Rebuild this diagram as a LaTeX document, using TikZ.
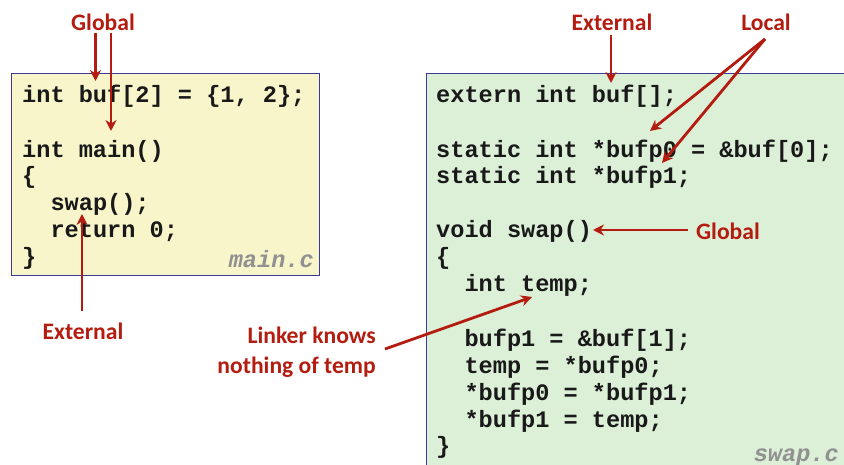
\documentclass[tikz,border=0pt]{standalone}
\usepackage{fontspec}
\setmonofont{Liberation Mono}
\newfontfamily\labfont{Carlito}
\usetikzlibrary{arrows.meta}
\definecolor{lred}{RGB}{180,28,16}
\definecolor{yelfill}{RGB}{249,245,202}
\definecolor{grnfill}{RGB}{220,240,216}
\definecolor{boxblue}{RGB}{60,60,150}
\definecolor{codeblack}{RGB}{25,25,25}
\definecolor{fname}{RGB}{145,145,145}
\begin{document}
\begin{tikzpicture}[x=1pt,y=-1pt,
  code/.style={anchor=base west,inner sep=0pt,text=codeblack,font=\ttfamily\bfseries\fontsize{23.6}{27}\selectfont},
  fnm/.style={anchor=base east,inner sep=0pt,text=fname,font=\ttfamily\bfseries\itshape\fontsize{23.6}{27}\selectfont},
  lab/.style={inner sep=0pt,text=lred,font=\labfont\bfseries\fontsize{23.6}{30}\selectfont},
  arr/.style={draw=lred,line width=2.8pt,-{Stealth[length=11pt,width=11pt]}},
  box/.style={draw=boxblue,line width=1pt}]
\useasboundingbox (0,0) rectangle (844,465);
% boxes
\draw[box,fill=yelfill] (11,74) rectangle (319,276);
\draw[box,fill=grnfill] (426,74) rectangle (860,480);
% main.c
\node[code] (m1) at (22,103) {int buf[2] = \{1, 2\};};
\node[code] (m2) at (22,158) {int main()};
\node[code] (m3) at (22,184) {\{};
\node[code] (m4) at (22,211) {\ \ swap();};
\node[code] (m5) at (22,238) {\ \ return 0;};
\node[code] (m6) at (22,265) {\}};
\node[fnm] (mf) at (314,268) {main.c};
% swap.c
\node[code] (s1) at (436,103) {extern int buf[];};
\node[code] (s2) at (436,157.5) {static int *bufp0 = \&buf[0];};
\node[code] (s3) at (436,184) {static int *bufp1;};
\node[code] (s4) at (436,238) {void swap()};
\node[code] (s5) at (436,265) {\{};
\node[code] (s6) at (436,292) {\ \ int temp;};
\node[code] (s7) at (436,346) {\ \ bufp1 = \&buf[1];};
\node[code] (s8) at (436,373) {\ \ temp = *bufp0;};
\node[code] (s9) at (436,400) {\ \ *bufp0 = *bufp1;};
\node[code] (s10) at (436,427) {\ \ *bufp1 = temp;};
\node[code] (s11) at (436,453.5) {\}};
\node[fnm] (sf) at (839,461) {swap.c};
% labels
\node[lab] (gl) at (103,22) {Global};
\node[lab] (el) at (83,331) {External};
\node[lab] (er) at (612,22) {External};
\node[lab] (lo) at (766,22) {Local};
\node[lab] (gr) at (728,231) {Global};
\node[lab,align=right,anchor=east] (lk) at (376,352) {Linker knows\\nothing of temp};
% arrow endpoints
\coordinate (ga1s) at (95.5,33);  \coordinate (ga1e) at (95.5,81);
\coordinate (ga2s) at (111,33);   \coordinate (ga2e) at (111,131);
\coordinate (eas) at (82,311);    \coordinate (eae) at (82,214);
\coordinate (ers) at (611,35);    \coordinate (ere) at (611,83);
\coordinate (los) at (765,39);
\coordinate (loe1) at (650,131);  \coordinate (loe2) at (662,163);
\coordinate (grs) at (688,230);   \coordinate (gre) at (593,230);
\coordinate (lks) at (385,349);   \coordinate (lke) at (532,297);
% arrows
\draw[arr] (ga1s) -- (ga1e);
\draw[arr] (ga2s) -- (ga2e);
\draw[arr] (eas) -- (eae);
\draw[arr] (ers) -- (ere);
\draw[arr] (los) -- (loe1);
\draw[arr] (los) -- (loe2);
\draw[arr] (grs) -- (gre);
\draw[arr] (lks) -- (lke);
\end{tikzpicture}
\end{document}
